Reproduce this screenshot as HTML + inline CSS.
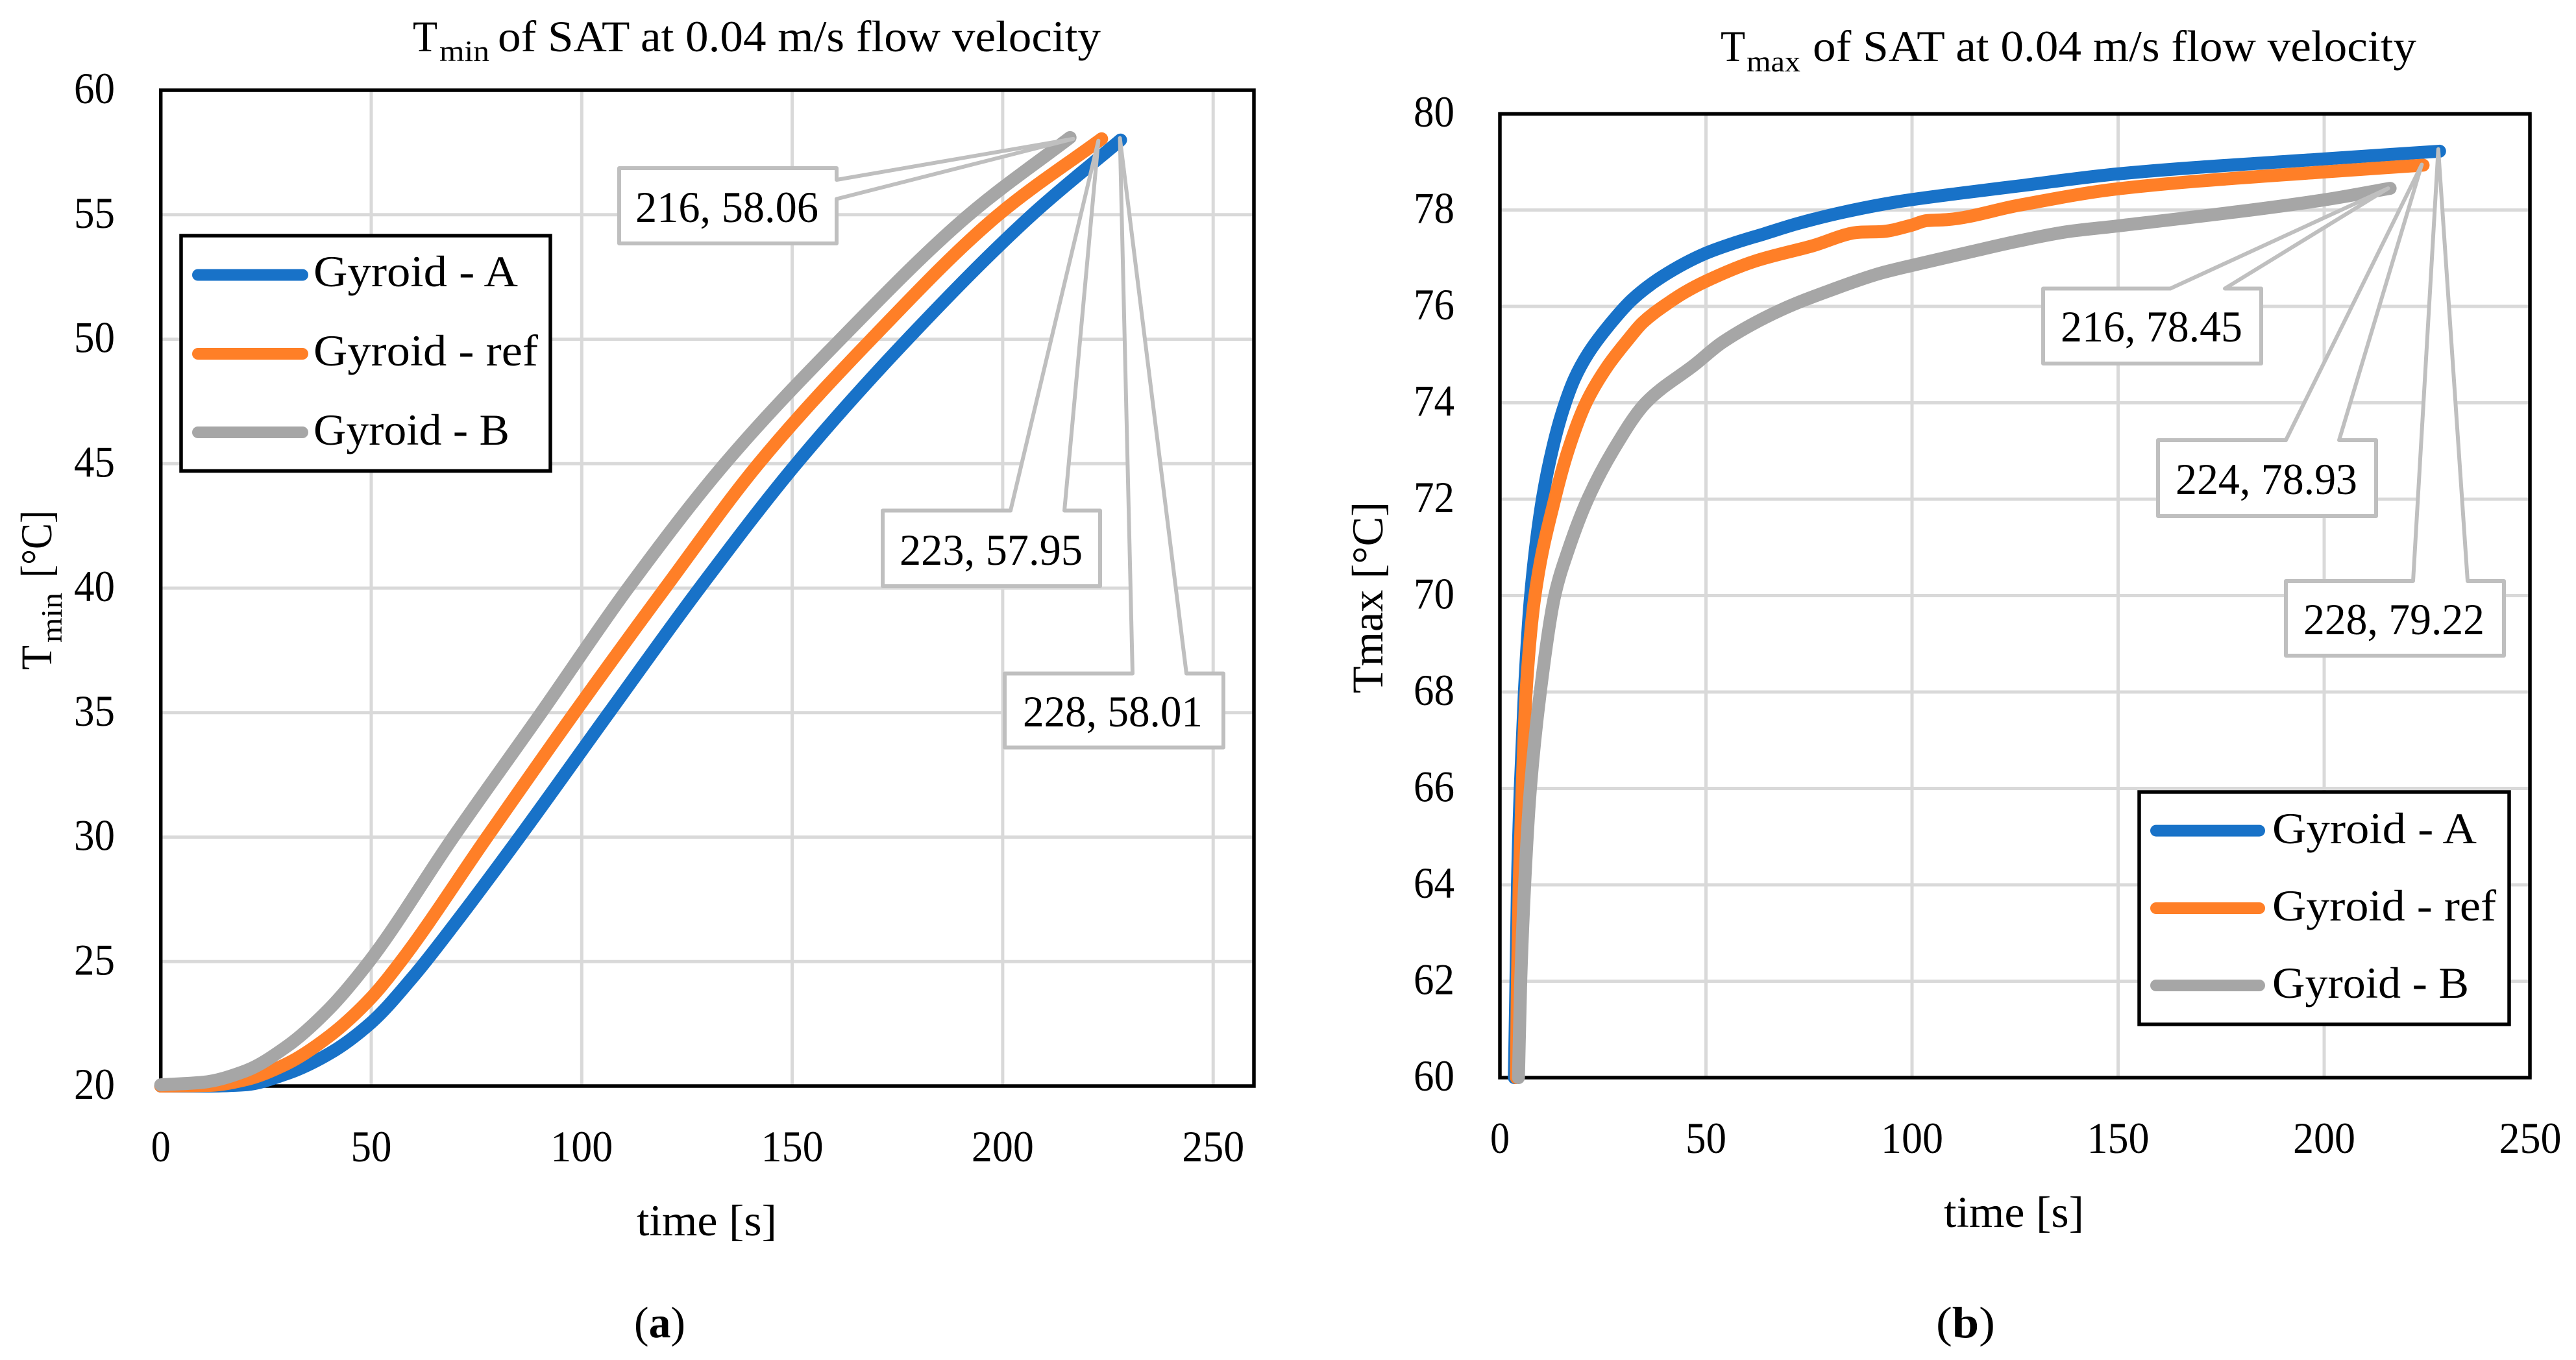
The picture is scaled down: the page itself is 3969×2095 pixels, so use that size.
<!DOCTYPE html>
<html lang="en">
<head>
<meta charset="utf-8">
<title>Tmin and Tmax of SAT at 0.04 m/s flow velocity</title>
<style>
html,body{margin:0;padding:0;background:#fff;width:3969px;height:2095px;overflow:hidden}
svg{display:block}
text{font-family:"Liberation Serif",serif;fill:#000}
</style>
</head>
<body>
<svg id="figure" xmlns="http://www.w3.org/2000/svg" width="3969" height="2095" viewBox="0 0 3969 2095">
  <rect x="0" y="0" width="3969" height="2095" fill="#fff"/>
  <g id="chart-a"></g>
  <g id="chart-b"></g>

  <text x="636" y="79" font-size="68" textLength="38" lengthAdjust="spacingAndGlyphs">T</text>
  <text x="677" y="94" font-size="46" textLength="77" lengthAdjust="spacingAndGlyphs">min</text>
  <text x="767" y="79" font-size="68" textLength="929" lengthAdjust="spacingAndGlyphs">of SAT at 0.04 m/s flow velocity</text>

  <text x="2651" y="94" font-size="68" textLength="38" lengthAdjust="spacingAndGlyphs">T</text>
  <text x="2691" y="110" font-size="46" textLength="83" lengthAdjust="spacingAndGlyphs">max</text>
  <text x="2793" y="94" font-size="68" textLength="930" lengthAdjust="spacingAndGlyphs">of SAT at 0.04 m/s flow velocity</text>

  <text transform="translate(79,1032) rotate(-90)" font-size="68" textLength="38" lengthAdjust="spacingAndGlyphs">T</text>
  <text transform="translate(95,990) rotate(-90)" font-size="46" textLength="77" lengthAdjust="spacingAndGlyphs">min</text>
  <text transform="translate(79,890) rotate(-90)" font-size="68" textLength="104" lengthAdjust="spacingAndGlyphs">[°C]</text>
  <text transform="translate(2130,1068) rotate(-90)" font-size="68" textLength="295" lengthAdjust="spacingAndGlyphs">Tmax [°C]</text>

  <text x="981" y="1903" font-size="68" textLength="216" lengthAdjust="spacingAndGlyphs">time [s]</text>
  <text x="2995" y="1890" font-size="68" textLength="216" lengthAdjust="spacingAndGlyphs">time [s]</text>

  <text x="977" y="2060" font-size="68" textLength="79" lengthAdjust="spacingAndGlyphs">(<tspan font-weight="bold">a</tspan>)</text>
  <text x="2983" y="2060" font-size="68" textLength="91" lengthAdjust="spacingAndGlyphs">(<tspan font-weight="bold">b</tspan>)</text>
</svg>

<script>
/* ---------- shared chart data ---------- */
const seriesNames = ['Gyroid - A', 'Gyroid - ref', 'Gyroid - B'];
const xTicks = [0, 50, 100, 150, 200, 250];

/* ---------- chart (a): Tmin ---------- */
const tminYTicks = [20, 25, 30, 35, 40, 45, 50, 55, 60];
const tminTimeA = [0, 12, 20, 30, 40, 50, 60, 70, 85, 106.5, 128, 151, 177.4, 207, 228];
const tminTempA = [20, 20, 20.05, 20.5, 21.3, 22.55, 24.4, 26.55, 29.95, 35, 40, 45, 50, 55, 58];
const tminTimeRef = [0, 12, 20, 30, 40, 50, 57, 77.5, 98.3, 119.8, 142, 168.8, 199, 223.5];
const tminTempRef = [20, 20.03, 20.25, 20.9, 22, 23.55, 25, 30, 35, 40, 45, 50, 55, 58.05];
const tminTimeB = [0, 10, 20, 30, 40, 49.5, 69.5, 90.4, 111, 134, 161.5, 192, 216];
const tminTempB = [20.05, 20.15, 20.6, 21.6, 23.1, 25, 30, 35, 40, 45, 50, 55, 58.1];
const tminCalloutLabels = ['228, 58.01', '223, 57.95', '216, 58.06'];

/* ---------- chart (b): Tmax ---------- */
const tmaxYTicks = [60, 62, 64, 66, 68, 70, 72, 74, 76, 78, 80];
const tmaxTimeA = [3.5, 3.9, 4.26, 4.94, 5.94, 7.45, 10.3, 12.9, 15.3, 18.1, 21.4, 26.6, 32.2, 39.4, 49.9, 56.3, 64.3, 72.3, 83.6, 96.4, 110.9, 126, 150, 200, 228];
const tmaxTempA = [60, 62, 64, 66, 68, 70, 72, 73.1, 73.85, 74.5, 75.02, 75.62, 76.15, 76.62, 77.1, 77.3, 77.51, 77.72, 77.96, 78.17, 78.34, 78.5, 78.75, 79.06, 79.22];
const tmaxTimeRef = [4, 4.26, 4.68, 5.4, 6.36, 8.5, 13.3, 16.5, 20.9, 25.8, 31, 34.6, 41, 45, 49.9, 61.9, 75.6, 87.5, 92.4, 99.7, 103.6, 108.4, 126, 150, 200, 224];
const tmaxTempRef = [60, 62, 64, 66, 68, 70, 72, 73, 74, 74.72, 75.3, 75.66, 76.08, 76.3, 76.52, 76.94, 77.25, 77.54, 77.55, 77.68, 77.78, 77.8, 78.1, 78.44, 78.79, 78.93];
const tmaxTimeB = [4.5, 5.05, 6, 7.4, 9.8, 13.3, 16.6, 21.3, 27.4, 35.4, 47.4, 53.9, 68.3, 80.4, 92.4, 100.5, 114.1, 126, 137.7, 150, 200, 216];
const tmaxTempB = [60, 62, 64, 66, 68, 70, 70.95, 72, 73, 74, 74.8, 75.25, 75.93, 76.34, 76.69, 76.86, 77.13, 77.36, 77.55, 77.67, 78.21, 78.45];
const tmaxCalloutLabels = ['228, 79.22', '224, 78.93', '216, 78.45'];

/* ---------- helpers ---------- */
const SVGNS = 'http://www.w3.org/2000/svg';
const seriesColors = ['#1872c8', '#ff7f27', '#a6a6a6'];
const seriesKeys = ['a', 'ref', 'b'];
const GRID = '#d9d9d9';
const CALLOUT = '#bfbfbf';

function make(parent, tag, attrs, txt) {
  const el = document.createElementNS(SVGNS, tag);
  for (const k in attrs) el.setAttribute(k, attrs[k]);
  if (txt !== undefined) el.textContent = txt;
  parent.appendChild(el);
  return el;
}

/* monotone cubic path through the data points */
function monotonePath(px, py) {
  const n = px.length;
  const d = [], m = [];
  for (let i = 0; i < n - 1; i++) d.push((py[i + 1] - py[i]) / (px[i + 1] - px[i]));
  m[0] = d[0];
  m[n - 1] = d[n - 2];
  for (let i = 1; i < n - 1; i++) {
    if (d[i - 1] * d[i] <= 0) { m[i] = 0; continue; }
    const h0 = px[i] - px[i - 1], h1 = px[i + 1] - px[i];
    m[i] = (h0 + h1) * 3 / ((2 * h1 + h0) / d[i - 1] + (h1 + 2 * h0) / d[i]);
  }
  let s = 'M' + px[0].toFixed(2) + ' ' + py[0].toFixed(2);
  for (let i = 0; i < n - 1; i++) {
    const h = (px[i + 1] - px[i]) / 3;
    s += ' C' + (px[i] + h).toFixed(2) + ' ' + (py[i] + m[i] * h).toFixed(2) + ' ' +
      (px[i + 1] - h).toFixed(2) + ' ' + (py[i + 1] - m[i + 1] * h).toFixed(2) + ' ' +
      px[i + 1].toFixed(2) + ' ' + py[i + 1].toFixed(2);
  }
  return s;
}

function drawAxes(g, prefix, cfg, yTicks) {
  const xOf = cfg.xOf, yOf = cfg.yOf;
  xTicks.forEach(function (v) {
    const gl = make(g, 'line', { x1: xOf(v), x2: xOf(v), y1: cfg.top, y2: cfg.bottom, stroke: GRID, 'stroke-width': 5 });
    
    
    const len = String(v).length === 1 ? 30 : (String(v).length === 2 ? 63 : 96);
    const t = make(g, 'text', { x: xOf(v), y: cfg.xTickBase, 'font-size': 68, 'text-anchor': 'middle', textLength: len, lengthAdjust: 'spacingAndGlyphs' }, String(v));
    
    
  });
  yTicks.forEach(function (v) {
    const gl = make(g, 'line', { x1: cfg.left, x2: cfg.right, y1: yOf(v), y2: yOf(v), stroke: GRID, 'stroke-width': 5 });
    
    
    const t = make(g, 'text', { x: cfg.yTickRight, y: yOf(v) + 20, 'font-size': 68, 'text-anchor': 'end', textLength: 63, lengthAdjust: 'spacingAndGlyphs' }, String(v));
    
    
  });
  const frame = make(g, 'rect', { x: cfg.left, y: cfg.top, width: cfg.right - cfg.left, height: cfg.bottom - cfg.top, fill: 'none', stroke: '#000', 'stroke-width': 5.5 });
  
  
}

function drawSeries(g, prefix, cfg, times, temps) {
  times.forEach(function (ts, i) {
    const px = ts.map(cfg.xOf), py = temps[i].map(cfg.yOf);
    const p = make(g, 'path', { d: monotonePath(px, py), fill: 'none', stroke: seriesColors[i], 'stroke-width': 20, 'stroke-linecap': 'round', 'stroke-linejoin': 'round' });
    
    
  });
}

function drawLegend(g, prefix, b) {
  const box = make(g, 'rect', { x: b.left, y: b.top, width: b.right - b.left, height: b.bottom - b.top, fill: '#fff', stroke: '#000', 'stroke-width': 5.5 });
  
  
  seriesNames.forEach(function (name, i) {
    const ln = make(g, 'line', { x1: b.lineX1, x2: b.lineX2, y1: b.lineY[i], y2: b.lineY[i], stroke: seriesColors[i], 'stroke-width': 18, 'stroke-linecap': 'round' });
    
    
    const t = make(g, 'text', { x: b.textX, y: b.textY[i], 'font-size': 68, textLength: b.textLen[i], lengthAdjust: 'spacingAndGlyphs' }, name);
    
    
  });
}

/* Callout box with a wedge leading to the last point of its series */
function drawCallout(g, name, label, tipX, tipY, c) {
  let pts;
  if (c.side === 'top') {
    pts = [[c.l, c.t], [c.w1, c.t], [tipX, tipY], [c.w2, c.t], [c.r, c.t], [c.r, c.b], [c.l, c.b]];
  } else {
    pts = [[c.l, c.t], [c.r, c.t], [c.r, c.w1], [tipX, tipY], [c.r, c.w2], [c.r, c.b], [c.l, c.b]];
  }
  const poly = make(g, 'polygon', { points: pts.map(function (p) { return p.join(','); }).join(' '), fill: '#fff', stroke: CALLOUT, 'stroke-width': 6, 'stroke-linejoin': 'round' });
  
  
  const t = make(g, 'text', { x: c.tx, y: c.ty, 'font-size': 68, textLength: c.tw, lengthAdjust: 'spacingAndGlyphs' }, label);
  
  
}

function last(arr) { return arr[arr.length - 1]; }

/* ---------- chart (a) ---------- */
(function () {
  const g = document.getElementById('chart-a');
  const cfg = {
    left: 247.7, right: 1932, top: 139, bottom: 1673, xTickBase: 1789, yTickRight: 177,
    xOf: function (v) { return 247.7 + v * 6.486; },
    yOf: function (v) { return 1673 - (v - 20) * 38.35; }
  };
  const times = [tminTimeA, tminTimeRef, tminTimeB];
  const temps = [tminTempA, tminTempRef, tminTempB];
  drawAxes(g, 'chart-a', cfg, tminYTicks);
  drawSeries(g, 'chart-a', cfg, times, temps);
  drawLegend(g, 'chart-a', {
    left: 279, right: 848, top: 363, bottom: 725.5, lineX1: 305, lineX2: 466,
    lineY: [423.5, 545, 666], textX: 483, textY: [441, 563, 685], textLen: [315, 346, 302]
  });
  drawCallout(g, 'chart-a-callout-a', tminCalloutLabels[0], cfg.xOf(last(tminTimeA)) - 1, cfg.yOf(last(tminTempA)) - 3,
    { side: 'top', l: 1548, r: 1885, t: 1037.5, b: 1151.5, w1: 1745, w2: 1828, tx: 1576, ty: 1119, tw: 277 });
  drawCallout(g, 'chart-a-callout-ref', tminCalloutLabels[1], cfg.xOf(last(tminTimeRef)) - 5, cfg.yOf(last(tminTempRef)) + 3,
    { side: 'top', l: 1360, r: 1695, t: 786.5, b: 903, w1: 1557, w2: 1640, tx: 1386, ty: 870, tw: 282 });
  drawCallout(g, 'chart-a-callout-b', tminCalloutLabels[2], cfg.xOf(last(tminTimeB)) + 5, cfg.yOf(last(tminTempB)) + 2,
    { side: 'right', l: 954, r: 1289, t: 259, b: 375, w1: 277, w2: 306.5, tx: 979, ty: 342, tw: 282 });
})();

/* ---------- chart (b) ---------- */
(function () {
  const g = document.getElementById('chart-b');
  const cfg = {
    left: 2311, right: 3898, top: 175.5, bottom: 1660, xTickBase: 1776, yTickRight: 2241,
    xOf: function (v) { return 2311 + v * 6.35; },
    yOf: function (v) { return 1660 - (v - 60) * 74.25; }
  };
  const times = [tmaxTimeA, tmaxTimeRef, tmaxTimeB];
  const temps = [tmaxTempA, tmaxTempRef, tmaxTempB];
  drawAxes(g, 'chart-b', cfg, tmaxYTicks);
  drawSeries(g, 'chart-b', cfg, times, temps);
  drawLegend(g, 'chart-b', {
    left: 3296, right: 3866, top: 1220, bottom: 1578, lineX1: 3322, lineX2: 3481,
    lineY: [1279.6, 1399, 1518], textX: 3501, textY: [1299, 1418, 1537], textLen: [315, 345, 303]
  });
  drawCallout(g, 'chart-b-callout-a', tmaxCalloutLabels[0], cfg.xOf(last(tmaxTimeA)) - 2, cfg.yOf(last(tmaxTempA)) - 3,
    { side: 'top', l: 3522, r: 3858, t: 895, b: 1010, w1: 3718, w2: 3802, tx: 3549, ty: 977, tw: 279 });
  drawCallout(g, 'chart-b-callout-ref', tmaxCalloutLabels[1], cfg.xOf(last(tmaxTimeRef)) - 2, cfg.yOf(last(tmaxTempRef)) - 1,
    { side: 'top', l: 3325, r: 3661, t: 678, b: 795, w1: 3522, w2: 3604, tx: 3352, ty: 761, tw: 280 });
  drawCallout(g, 'chart-b-callout-b', tmaxCalloutLabels[2], cfg.xOf(last(tmaxTimeB)) - 3, cfg.yOf(last(tmaxTempB)),
    { side: 'top', l: 3148, r: 3484, t: 444.5, b: 560, w1: 3344, w2: 3428, tx: 3175, ty: 526, tw: 280 });
})();
</script>
</body>
</html>
